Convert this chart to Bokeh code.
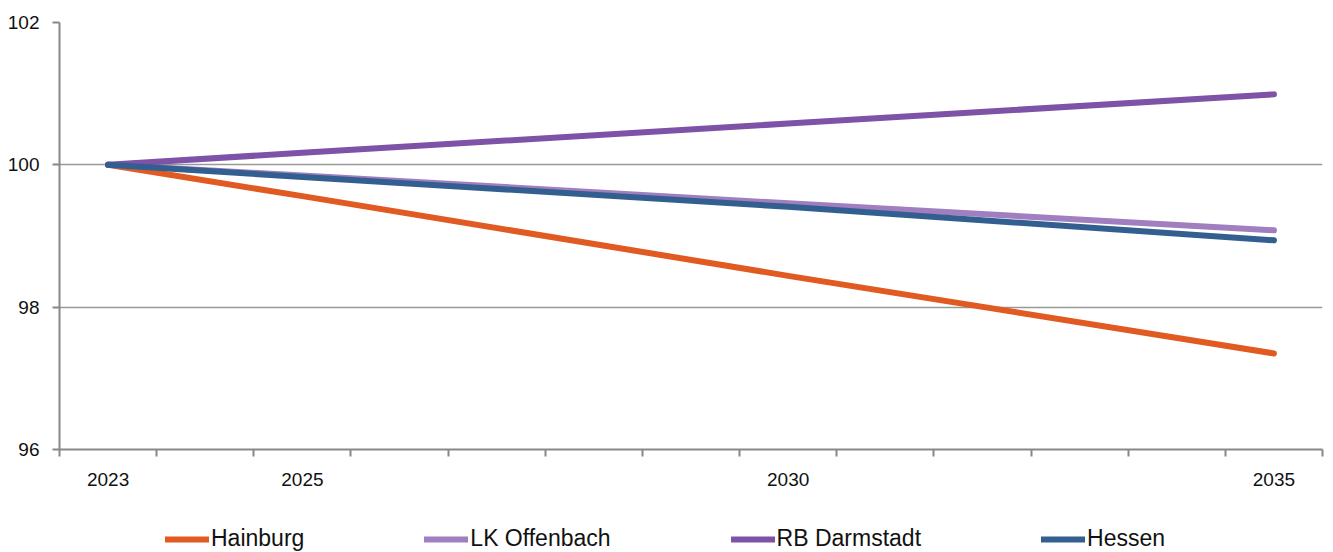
from bokeh.plotting import figure
from bokeh.models import FixedTicker, Legend, LegendItem, Range1d
from bokeh.layouts import column
from bokeh.embed import file_html
from bokeh.resources import INLINE

years = [2023, 2025, 2030, 2035]
hainburg = [100.0, 99.56, 98.44, 97.35]
lk_offenbach = [100.0, 99.85, 99.46, 99.08]
rb_darmstadt = [100.0, 100.17, 100.58, 100.99]
hessen = [100.0, 99.83, 99.41, 98.94]

series_names = ["Hainburg", "LK Offenbach", "RB Darmstadt", "Hessen"]
series_values = [hainburg, lk_offenbach, rb_darmstadt, hessen]
colors = ["#E05A22", "#A07EC0", "#7E52A6", "#335F90"]

x_major = [2023, 2025, 2030, 2035]
x_minor = [2022.5 + i for i in range(14)]
y_ticks = [96, 98, 100, 102]

FONT = "Liberation Sans, Arial, sans-serif"

p = figure(width=1325, height=500, min_border_left=59, min_border_right=3,
           min_border_top=22, min_border_bottom=51,
           x_range=Range1d(2022.5, 2035.5), y_range=Range1d(96, 102),
           output_backend="svg", toolbar_location=None)
p.outline_line_color = None
p.background_fill_color = "white"

for name, vals, col in zip(series_names, series_values, colors):
    p.line(years, vals, line_color=col, line_width=6, line_cap="round", line_join="round")

# axes
p.xaxis.ticker = FixedTicker(ticks=x_major, minor_ticks=x_minor)
p.xaxis.major_tick_out = 0
p.xaxis.major_tick_in = 0
p.xaxis.minor_tick_out = 7
p.xaxis.minor_tick_in = 0
p.xaxis.minor_tick_line_color = "#888888"
p.xaxis.minor_tick_line_width = 2
p.xaxis.axis_line_color = "#888888"
p.xaxis.axis_line_width = 2
p.xaxis.major_label_standoff = 16
p.xaxis.major_label_text_font = FONT
p.xaxis.major_label_text_font_size = "19px"
p.xaxis.major_label_text_color = "#111111"

p.yaxis.ticker = FixedTicker(ticks=y_ticks, minor_ticks=[])
p.yaxis.major_tick_out = 7
p.yaxis.major_tick_in = 0
p.yaxis.major_tick_line_color = "#888888"
p.yaxis.major_tick_line_width = 2
p.yaxis.axis_line_color = "#888888"
p.yaxis.axis_line_width = 2
p.yaxis.major_label_standoff = 13
p.yaxis.major_label_text_font = FONT
p.yaxis.major_label_text_font_size = "19px"
p.yaxis.major_label_text_color = "#111111"

p.xgrid.grid_line_color = None
p.ygrid.ticker = FixedTicker(ticks=[98, 100, 102])
p.ygrid.grid_line_color = "#999999"
p.ygrid.grid_line_width = 1.5

# legend strip: same series, drawn outside its visible range so only the legend shows
lg = figure(width=1325, height=52, min_border=0, x_range=Range1d(0, 1), y_range=Range1d(0, 1),
            x_axis_type=None, y_axis_type=None,
            output_backend="svg", toolbar_location=None)
lg.outline_line_color = None
lg.xgrid.grid_line_color = None
lg.ygrid.grid_line_color = None
items = []
for name, vals, col in zip(series_names, series_values, colors):
    r = lg.line(years, vals, line_color=col, line_width=6, line_cap="round")
    items.append(LegendItem(label=name, renderers=[r]))

legend = Legend(items=items, orientation="horizontal", location=(106, 0),
                spacing=120, glyph_width=44, glyph_height=20, label_standoff=2,
                label_text_font=FONT, label_text_font_size="23px",
                label_text_color="#111111",
                border_line_color=None, background_fill_alpha=0,
                padding=0, margin=0)
lg.add_layout(legend, "center")

layout = column(p, lg, spacing=0)
open("out.html", "w").write(file_html(layout, INLINE))
